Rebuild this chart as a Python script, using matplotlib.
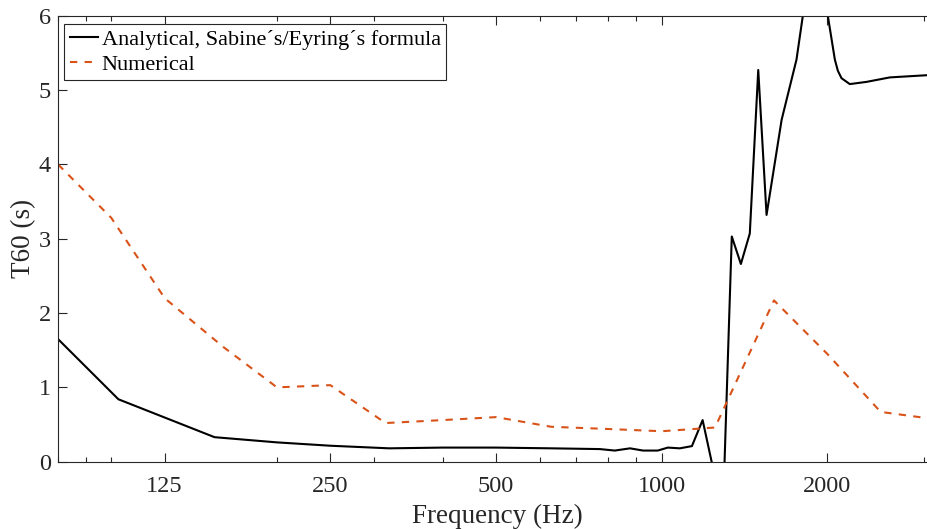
from matplotlib import pyplot as plt
from matplotlib.ticker import FixedLocator, LogLocator, NullFormatter
import matplotlib

matplotlib.rcParams["font.family"] = ['Liberation Serif', 'DejaVu Serif']

# numerical T60, third octave bands
freq_num = [80, 100, 125, 160, 200, 250, 315, 400, 500, 630, 800, 1000, 1250, 1600, 2000, 2500, 3150]
t60_num = [4.0, 3.28, 2.2, 1.54, 1.0, 1.03, 0.52, 0.56, 0.6, 0.47, 0.44, 0.41, 0.46, 2.17, 1.45, 0.67, 0.57]

# analytical T60 (Sabine / Eyring)
freq_an = [80, 103, 154, 200, 250, 320, 400, 500, 630, 772, 822, 876, 925, 984, 1026, 1079, 1135,
           1187, 1292, 1341, 1393, 1446, 1498, 1551, 1652, 1758, 1897, 2064, 2090, 2122, 2197, 2357,
           2598, 3041, 3150]
t60_an = [1.65, 0.84, 0.33, 0.26, 0.215, 0.18, 0.19, 0.19, 0.18, 0.17, 0.15, 0.18, 0.15, 0.15, 0.19,
          0.18, 0.21, 0.56, -0.7, 3.03, 2.66, 3.07, 5.27, 3.32, 4.6, 5.41, 7.1, 5.41, 5.26, 5.16, 5.08,
          5.11, 5.17, 5.20, 5.21]

xticks = [125, 250, 500, 1000, 2000]

fig = plt.figure(figsize=(9.28, 5.29), dpi=100)
ax = fig.add_axes([0.0625, 0.1272, 0.946, 0.8431])

ax.plot(freq_an, t60_an, color='black', linewidth=1.5, label='Analytical, Sabine\u00b4s/Eyring\u00b4s formula')
ax.plot(freq_num, t60_num, color='#D95319', linewidth=1.5, linestyle=(0, (3.5, 3.5)), label='Numerical')

ax.set_xscale('log')
ax.set_xlim(80, 3150)
ax.set_ylim(0, 6)
ax.xaxis.set_major_locator(FixedLocator(xticks))
ax.set_xticklabels([str(t) for t in xticks])
ax.xaxis.set_minor_locator(LogLocator(base=10, subs=range(1, 10), numticks=20))
ax.xaxis.set_minor_formatter(NullFormatter())
ax.set_yticks([0, 1, 2, 3, 4, 5, 6])

ax.tick_params(which='both', direction='in', top=True, right=True, colors='#262626', labelsize=17.5)
ax.tick_params(which='major', length=6.5, width=0.8)
ax.tick_params(which='minor', length=3.5, width=0.8)
ax.tick_params(axis='x', pad=10)
ax.tick_params(axis='y', pad=5)
for s in ax.spines.values():
    s.set_color('#262626')
    s.set_linewidth(0.8)

ax.set_xlabel('Frequency (Hz)', fontsize=19.5, color='#262626', labelpad=5)
ax.set_ylabel('T60 (s)', fontsize=19.5, color='#262626', labelpad=2)

leg = ax.legend(loc='upper left', bbox_to_anchor=(0.0068, 0.982), fontsize=16, frameon=True,
                fancybox=False, edgecolor='#262626', framealpha=1, handlelength=1.3,
                handletextpad=0.15, borderpad=0.25, labelspacing=0.2, borderaxespad=0)
leg.get_frame().set_linewidth(0.8)

plt.savefig('out.png', dpi=100)
